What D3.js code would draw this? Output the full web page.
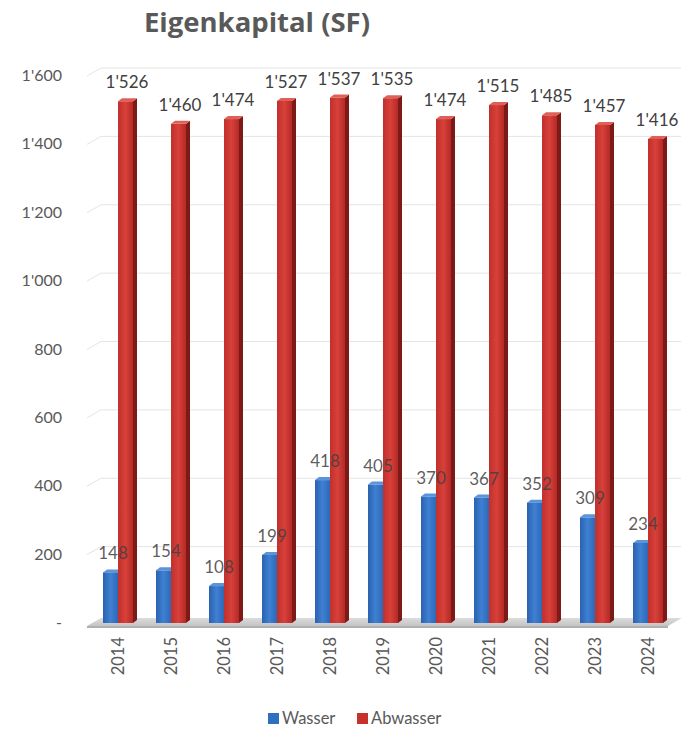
<!DOCTYPE html>
<html><head><meta charset="utf-8">
<script src="https://cdn.jsdelivr.net/npm/d3@7/dist/d3.min.js"></script>
<style>body{margin:0;background:#fff}svg{display:block}</style>
</head><body>
<svg id="c" width="681" height="730"></svg>
<script>
const years = ["2014","2015","2016","2017","2018","2019","2020","2021","2022","2023","2024"];
const wasser = [148,154,108,199,418,405,370,367,352,309,234];
const abwasser = [1526,1460,1474,1527,1537,1535,1474,1515,1485,1457,1416];
const yTicks = [0,200,400,600,800,1000,1200,1400,1600];
const seriesNames = ["Wasser","Abwasser"];

const svg = d3.select("#c");
const loc = d3.formatLocale({decimal:".", thousands:"'", grouping:[3], currency:["",""]});
const fmt = v => v === 0 ? "-" : loc.format(",")(v);

const y = d3.scaleLinear().domain([0,1600]).range([623,76]);
const x = d3.scaleBand().domain(years).range([91.5,674.5]);
const font = "Lato, 'Open Sans', sans-serif";

const defs = svg.append("defs");
const gb = defs.append("linearGradient").attr("id","gb");
gb.append("stop").attr("offset","0").attr("stop-color","#2a62b0");
gb.append("stop").attr("offset","0.5").attr("stop-color","#3f80d2");
gb.append("stop").attr("offset","1").attr("stop-color","#2d68b8");
const gr = defs.append("linearGradient").attr("id","gr");
gr.append("stop").attr("offset","0").attr("stop-color","#c0302c");
gr.append("stop").attr("offset","0.5").attr("stop-color","#d8403a");
gr.append("stop").attr("offset","1").attr("stop-color","#b42a26");
const gf = defs.append("linearGradient").attr("id","gf").attr("x1",0).attr("y1",0).attr("x2",0).attr("y2",1);
gf.append("stop").attr("offset","0").attr("stop-color","#dcdcdc");
gf.append("stop").attr("offset","1").attr("stop-color","#c4c4c4");

// title
svg.append("text").attr("x",257).attr("y",32).attr("text-anchor","middle")
  .attr("font-family","'Open Sans', sans-serif").attr("font-weight","bold").attr("font-size",27.5)
  .attr("fill","#595959").text("Eigenkapital (SF)");

// gridlines (back wall)
const dx = 14, dz = 8;
yTicks.filter(t=>t>0).forEach(t=>{
  const yy = y(t);
  svg.append("path").attr("d",`M87,${yy}L${87+dx},${yy-dz}L681,${yy-dz}`)
    .attr("fill","none").attr("stroke","#e4e4e4").attr("stroke-width",1);
});

// y labels
svg.append("g").selectAll("text").data(yTicks).join("text")
  .attr("x",62).attr("y",d=>y(d)+5).attr("text-anchor","end")
  .attr("font-family",font).attr("font-size",16).attr("fill","#595959")
  .text(fmt);

// floor
const y0 = y(0);
svg.append("path").attr("d",`M87,${y0+3}L668,${y0+3}L${668+dx},${y0+3-dz}L${87+dx},${y0+3-dz}Z`)
  .attr("fill","url(#gf)");
svg.append("path").attr("d",`M87,${y0+3}L668,${y0+3}L668,${y0+5}L87,${y0+5}Z`).attr("fill","#b0b0b0");

const bw = 15, sd = 4, sdy = 3;

// blue bars
const gB = svg.append("g");
years.forEach((yr,i)=>{
  const c = x(yr) + x.bandwidth()/2;
  const x0 = c - bw, top = y(wasser[i]);
  gB.append("path").attr("d",`M${x0},${top}L${x0+sd},${top-sdy}L${x0+bw+sd},${top-sdy}L${x0+bw},${top}Z`).attr("fill","#5a95dc");
  gB.append("rect").attr("x",x0).attr("y",top).attr("width",bw).attr("height",y0-top).attr("fill","url(#gb)");
});

// red bars
const gR = svg.append("g");
years.forEach((yr,i)=>{
  const c = x(yr) + x.bandwidth()/2;
  const x0 = c, top = y(abwasser[i]);
  gR.append("path").attr("d",`M${x0+bw},${top}L${x0+bw+sd},${top-sdy}L${x0+bw+sd},${y0-sdy}L${x0+bw},${y0}Z`).attr("fill","#7d1a18");
  gR.append("path").attr("d",`M${x0},${top}L${x0+sd},${top-sdy}L${x0+bw+sd},${top-sdy}L${x0+bw},${top}Z`).attr("fill","#e06058");
  gR.append("rect").attr("x",x0).attr("y",top).attr("width",bw).attr("height",y0-top).attr("fill","url(#gr)");
});

// blue labels (drawn over red bars, semi-transparent)
svg.append("g").selectAll("text").data(wasser).join("text")
  .attr("x",(d,i)=>x(years[i])+x.bandwidth()/2-5).attr("y",d=>y(d)-13)
  .attr("text-anchor","middle").attr("font-family",font).attr("font-size",17).attr("fill","#404040")
  .attr("fill-opacity",0.85)
  .text(fmt);
// red labels
svg.append("g").selectAll("text").data(abwasser).join("text")
  .attr("x",(d,i)=>x(years[i])+x.bandwidth()/2+9).attr("y",d=>y(d)-13)
  .attr("text-anchor","middle").attr("font-family",font).attr("font-size",17).attr("fill","#404040")
  .text(fmt);

// x labels
svg.append("g").selectAll("text").data(years).join("text")
  .attr("transform",d=>`translate(${x(d)+x.bandwidth()/2+6},637) rotate(-90)`)
  .attr("text-anchor","end").attr("font-family",font).attr("font-size",16.5).attr("fill","#595959")
  .text(d=>d);

// legend
const lg = svg.append("g");
const legX = [268, 357];
const cols = ["#2f6fc0","#c8302c"];
seriesNames.forEach((n,i)=>{
  lg.append("rect").attr("x",legX[i]).attr("y",713).attr("width",11).attr("height",11).attr("fill",cols[i]);
  lg.append("text").attr("x",legX[i]+14).attr("y",724).attr("font-family",font).attr("font-size",16.5)
    .attr("fill","#595959").text(n);
});
</script>
</body></html>
